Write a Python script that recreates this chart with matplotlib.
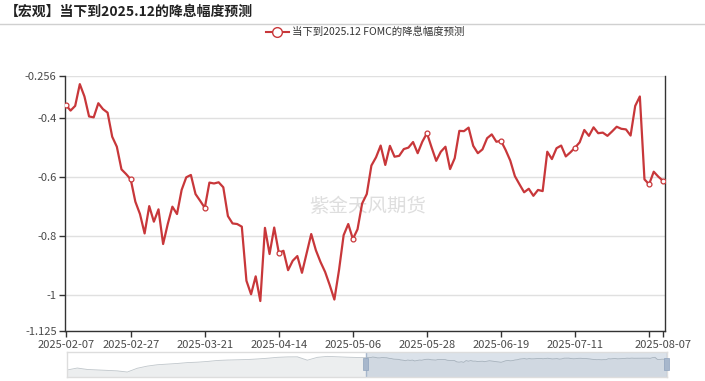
import numpy as np
import pandas as pd
import matplotlib
matplotlib.use("Agg")
import matplotlib.pyplot as plt
from matplotlib.lines import Line2D
from matplotlib.patches import Rectangle

plt.rcParams['font.family'] = ['Noto Sans CJK SC', 'DejaVu Sans']

title = "【宏观】当下到2025.12的降息幅度预测"
series_name = "当下到2025.12 FOMC的降息幅度预测"
watermark = "紫金天风期货"

# trading days shown in the main window
dates = pd.bdate_range("2025-02-07", "2025-08-07").strftime("%Y-%m-%d").tolist()

# expected cut (pct pts) to 2025.12
values = [
    -0.355, -0.374, -0.358, -0.284, -0.326, -0.394, -0.397, -0.349, -0.369, -0.381,
    -0.463, -0.497, -0.574, -0.590, -0.608, -0.684, -0.726, -0.792, -0.699, -0.752,
    -0.710, -0.828, -0.760, -0.701, -0.726, -0.644, -0.601, -0.593, -0.658, -0.681,
    -0.705, -0.619, -0.622, -0.618, -0.635, -0.733, -0.758, -0.760, -0.769, -0.953,
    -0.999, -0.938, -1.022, -0.773, -0.862, -0.772, -0.858, -0.851, -0.917, -0.885,
    -0.869, -0.926, -0.860, -0.794, -0.849, -0.889, -0.923, -0.968, -1.017, -0.917,
    -0.798, -0.760, -0.811, -0.778, -0.690, -0.658, -0.561, -0.533, -0.493, -0.559,
    -0.494, -0.531, -0.528, -0.505, -0.500, -0.481, -0.519, -0.480, -0.451, -0.499,
    -0.545, -0.514, -0.497, -0.573, -0.536, -0.443, -0.444, -0.432, -0.494, -0.519,
    -0.506, -0.468, -0.455, -0.480, -0.477, -0.508, -0.544, -0.597, -0.625, -0.652,
    -0.640, -0.664, -0.644, -0.648, -0.514, -0.539, -0.502, -0.493, -0.530, -0.516,
    -0.500, -0.482, -0.440, -0.460, -0.431, -0.451, -0.449, -0.460, -0.445, -0.429,
    -0.436, -0.438, -0.459, -0.358, -0.326, -0.608, -0.625, -0.582, -0.599, -0.613,
]

# earlier data, only visible as the slider shadow (coarse reading)
history = [
    -2.09, -1.82, -2.02, -2.08, -2.15, -2.22, -2.38, -1.85, -1.55, -1.36,
    -1.27, -1.18, -1.06, -1.00, -0.90, -0.76, -0.70, -0.66, -0.63, -0.55,
    -0.45, -0.32, -0.26, -0.25, -0.72, -0.32, -0.19, -0.25, -0.30, -0.34,
]

label_idx = [0, 14, 30, 46, 62, 78, 94, 110, 126, 129]
hidden_label = 126
yticks = [-0.256, -0.4, -0.6, -0.8, -1, -1.125]
ytick_labels = ["-0.256", "-0.4", "-0.6", "-0.8", "-1", "-1.125"]

red = "#c8373a"
axis_col = "#333333"

fig = plt.figure(figsize=(7.05, 3.81), dpi=100)
W, H = 705, 381

# title + separator
fig.text(5 / W, 1 - 12 / H, title, fontsize=10, fontweight="bold", color="#222222",
         ha="left", va="center")
fig.add_artist(Line2D([0, 1], [1 - 23.5 / H, 1 - 23.5 / H], color="#d0d0d0", lw=1))

# main plot
ax = fig.add_axes([65 / W, 1 - 331.3 / H, 600.3 / W, 255.4 / H])
x = np.arange(len(values))
ax.plot(x, values, color=red, lw=1.6, marker="o", markevery=label_idx, ms=3.5,
        mfc="white", mec=red, mew=0.9, zorder=3, solid_joinstyle="round")
ax.set_xlim(-0.2, len(values) - 1 + 0.5)
ax.set_ylim(yticks[-1], yticks[0])
ax.set_yticks(yticks)
ax.set_yticklabels(ytick_labels)
ax.set_xticks(label_idx)
ax.set_xticklabels(["" if i == hidden_label else dates[i] for i in label_idx])
ax.grid(axis="y", color="#e0e0e0", lw=1)
ax.set_axisbelow(True)
ax.spines["top"].set_visible(False)
for s in ["left", "bottom", "right"]:
    ax.spines[s].set_color(axis_col)
    ax.spines[s].set_linewidth(1)
ax.tick_params(axis="both", colors=axis_col, labelsize=8, length=4, width=1, pad=2,
               labelcolor="#4a4a4a")

ax.text(0.505, 0.49, watermark, transform=ax.transAxes, fontsize=14, color="#dedede",
        ha="center", va="center", zorder=1)

# legend
handle = Line2D([], [], color=red, lw=1.5, marker="o", ms=7, mfc="white", mec=red, mew=1)
fig.legend([handle], [series_name], loc="center", bbox_to_anchor=(365 / W, 1 - 32 / H),
           frameon=False, fontsize=7.5, handlelength=2.2, handletextpad=0.3,
           labelcolor="#333333")

# data zoom slider
sl = fig.add_axes([67.3 / W, 1 - 376.7 / H, 599.4 / W, 25 / H])
split = 0.498
full = history + values
hx = np.linspace(0, split - 0.014, len(history))
vx = np.linspace(split, 1, len(values))
fx = np.concatenate([hx, vx])
lo, hi = min(full), max(full)
pad = (hi - lo) * 0.3
sl.set_xlim(0, 1)
sl.set_ylim(lo - pad, hi + pad)
sl.fill_between(fx, full, lo - pad, color="#2f4554", alpha=0.09, lw=0)
sl.plot(fx, full, color="#2f4554", alpha=0.3, lw=0.6)
sl.axvspan(split, 1, color="#a7b7cc", alpha=0.4, lw=0)
for hxp in [split, 1]:
    sl.axvline(hxp, color="#a7b7cc", lw=1)
    sl.add_patch(Rectangle((hxp - 0.004, 0.26), 0.008, 0.48, transform=sl.get_xaxis_transform(),
                           facecolor="#a7b7cc", edgecolor="#8fa3bd", lw=0.5, zorder=4,
                           clip_on=False))
sl.set_xticks([])
sl.set_yticks([])
for s in sl.spines.values():
    s.set_color("#dddddd")
    s.set_linewidth(1)

fig.savefig("out.png", dpi=100)
